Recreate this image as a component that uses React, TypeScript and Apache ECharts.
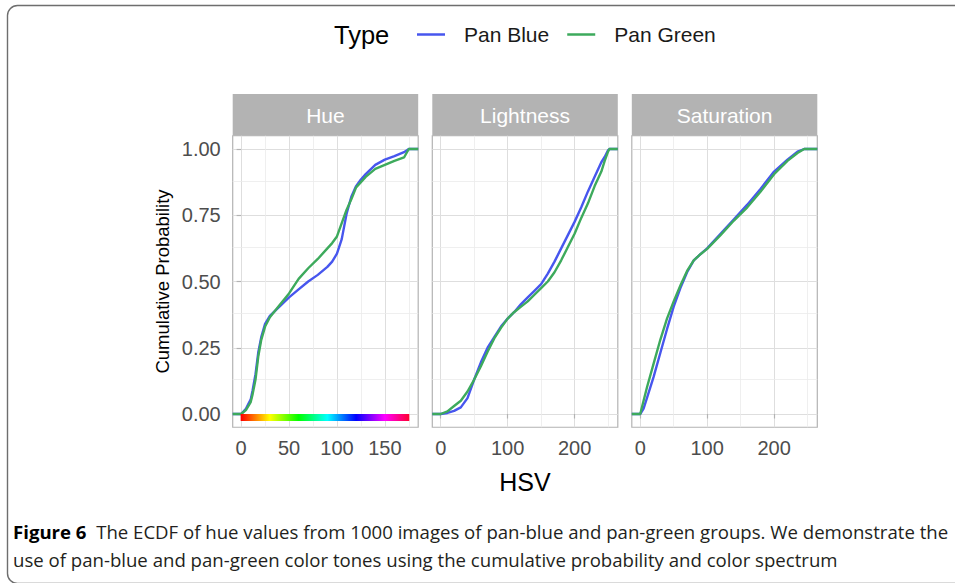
import React, { useEffect, useRef } from 'react';
import * as echarts from 'echarts';

// ---------- data ----------
const panelNames = ['Hue', 'Lightness', 'Saturation'];
const typeNames = ['Pan Blue', 'Pan Green'];
const typeColors = ['#4756EE', '#3DAA5C'];

const yTicks = [0, 0.25, 0.5, 0.75, 1];
const yMinor = [0.125, 0.375, 0.625, 0.875];
const yRange = [-0.05, 1.05];

const hueX = [0, 5, 10, 12, 15, 18, 21, 25, 30, 40, 50, 60, 70, 80, 90, 95, 100, 105, 110, 115, 120, 125, 130, 140, 150, 160, 170, 175];
const hueBlue = [0, 0.02, 0.055, 0.09, 0.15, 0.235, 0.29, 0.34, 0.37, 0.405, 0.44, 0.47, 0.5, 0.525, 0.555, 0.575, 0.605, 0.66, 0.755, 0.82, 0.86, 0.885, 0.905, 0.94, 0.96, 0.973, 0.988, 1];
const hueGreen = [0, 0.015, 0.045, 0.075, 0.13, 0.22, 0.28, 0.33, 0.365, 0.41, 0.455, 0.51, 0.55, 0.585, 0.625, 0.645, 0.67, 0.72, 0.77, 0.81, 0.855, 0.875, 0.895, 0.925, 0.94, 0.955, 0.968, 1];
const hueTicks = [0, 50, 100, 150];
const hueMinor = [25, 75, 125, 175];
const hueRange = [-8.8, 184.8];

const lightX = [0, 10, 20, 30, 40, 50, 60, 70, 80, 90, 100, 110, 120, 130, 140, 150, 160, 170, 180, 190, 200, 210, 220, 230, 240, 245, 250, 252];
const lightBlue = [0, 0.004, 0.012, 0.025, 0.06, 0.13, 0.195, 0.25, 0.29, 0.33, 0.36, 0.385, 0.415, 0.44, 0.465, 0.49, 0.53, 0.575, 0.625, 0.675, 0.725, 0.78, 0.84, 0.895, 0.95, 0.97, 0.995, 1];
const lightGreen = [0, 0.01, 0.03, 0.05, 0.085, 0.13, 0.18, 0.235, 0.285, 0.325, 0.36, 0.385, 0.405, 0.425, 0.45, 0.475, 0.5, 0.535, 0.58, 0.63, 0.68, 0.74, 0.795, 0.86, 0.915, 0.955, 0.99, 1];

const satX = [0, 5, 10, 20, 30, 40, 50, 60, 70, 80, 90, 100, 120, 140, 160, 180, 200, 220, 235, 245, 248];
const satBlue = [0, 0.02, 0.06, 0.14, 0.23, 0.32, 0.405, 0.475, 0.535, 0.58, 0.603, 0.625, 0.68, 0.735, 0.79, 0.85, 0.915, 0.96, 0.99, 1, 1];
const satGreen = [0, 0.05, 0.1, 0.19, 0.28, 0.36, 0.425, 0.485, 0.54, 0.58, 0.603, 0.623, 0.675, 0.73, 0.78, 0.84, 0.905, 0.955, 0.985, 1, 1];

const valueTicks = [0, 100, 200];
const valueMinor = [50, 150, 250];
const valueRange = [-12.6, 264.6];

const spectrumRange = [-0.5, 175.5];
const spectrumY = [-0.026, 0.0];
const spectrumHues = [0, 30, 60, 90, 120, 150, 175.5];
const spectrumColors = ['#FF0000', '#FFFF00', '#00FF00', '#00FFFF', '#0000FF', '#FF00FF', '#FF0030'];

const captionBold = 'Figure 6';
const captionLine1 = 'The ECDF of hue values from 1000 images of pan-blue and pan-green groups. We demonstrate the';
const captionLine2 = 'use of pan-blue and pan-green color tones using the cumulative probability and color spectrum';

// ---------- layout ----------
const panelLeft = [232.7, 432.3, 631.8];
const panelTop = 135.75;
const panelW = 185.5;
const panelH = 291.5;
const stripTop = 94;

const panels = [
  { x: hueX, blue: hueBlue, green: hueGreen, ticks: hueTicks, minor: hueMinor, range: hueRange },
  { x: lightX, blue: lightBlue, green: lightGreen, ticks: valueTicks, minor: valueMinor, range: valueRange },
  { x: satX, blue: satBlue, green: satGreen, ticks: valueTicks, minor: valueMinor, range: valueRange },
];

const FONT = '"Liberation Sans", Arial, sans-serif';
const CAPTION_FONT = '"Open Sans", sans-serif';

export default function App() {
  const ref = useRef<HTMLDivElement>(null);
  useEffect(() => {
    if (!ref.current) return;
    const chart = echarts.init(ref.current, undefined, { renderer: 'svg' });

    const grids: any[] = [];
    const xAxes: any[] = [];
    const yAxes: any[] = [];
    const series: any[] = [];
    const graphics: any[] = [];

    panels.forEach((p, i) => {
      grids.push({
        left: panelLeft[i], top: panelTop, width: panelW, height: panelH,
        show: true, backgroundColor: '#FFFFFF', borderColor: '#B3B3B3', borderWidth: 1.2,
        containLabel: false,
      });
      xAxes.push({
        type: 'value', gridIndex: i, min: p.range[0], max: p.range[1],
        splitNumber: i === 0 ? 4 : 3,
        axisLine: { show: false },
        axisTick: { show: true, length: 4.5, customValues: p.ticks, lineStyle: { color: '#B3B3B3', width: 1.2 } },
        axisLabel: { show: true, customValues: p.ticks, margin: 11, fontSize: 20, color: '#4D4D4D', fontFamily: FONT },
        splitLine: { show: true, lineStyle: { color: '#DEDEDE', width: 1 } },
      });
      yAxes.push({
        type: 'value', gridIndex: i, min: yRange[0], max: yRange[1],
        axisLine: { show: false },
        axisTick: { show: i === 0, length: 4.5, customValues: yTicks, lineStyle: { color: '#B3B3B3', width: 1.2 } },
        axisLabel: {
          show: i === 0, customValues: yTicks, margin: 12, fontSize: 20, color: '#4D4D4D', fontFamily: FONT,
          formatter: (v: number) => v.toFixed(2),
        },
        splitLine: { show: true, lineStyle: { color: '#DEDEDE', width: 1 } },
      });
      const curves = [p.blue, p.green];
      curves.forEach((ys, k) => {
        const data = [[p.range[0], 0], ...p.x.map((xv, j) => [xv, ys[j]]), [p.range[1], 1]];
        const s: any = {
          type: 'line', name: typeNames[k], xAxisIndex: i, yAxisIndex: i,
          data, showSymbol: false, symbol: 'none', smooth: false, z: 10,
          lineStyle: { color: typeColors[k], width: 2.4 }, itemStyle: { color: typeColors[k] },
          emphasis: { disabled: true }, silent: true,
        };
        if (k === 0) {
          s.markLine = {
            silent: true, symbol: 'none', z: 1, animation: false,
            label: { show: false },
            lineStyle: { color: '#EBEBEB', width: 0.8, type: 'solid' },
            emphasis: { disabled: true },
            data: [...yMinor.map((v) => ({ yAxis: v })), ...p.minor.map((v) => ({ xAxis: v }))],
          };
        }
        series.push(s);
      });
      // strip
      graphics.push({
        type: 'rect', shape: { x: panelLeft[i], y: stripTop, width: panelW, height: panelTop - stripTop },
        style: { fill: '#B3B3B3' }, silent: true,
      });
      graphics.push({
        type: 'text', x: panelLeft[i] + panelW / 2, y: (stripTop + panelTop) / 2 + 1,
        style: { text: panelNames[i], fill: '#FFFFFF', fontSize: 21, fontFamily: FONT, align: 'center', verticalAlign: 'middle' },
        silent: true,
      });
    });

    // colour spectrum on the hue panel
    const span = spectrumRange[1] - spectrumRange[0];
    const stops = spectrumHues.map((h, j) => ({ offset: (h - spectrumRange[0]) / span, color: spectrumColors[j] }));
    series.push({
      type: 'custom', xAxisIndex: 0, yAxisIndex: 0, z: 12, silent: true,
      data: [[spectrumRange[0], spectrumRange[1], spectrumY[0], spectrumY[1]]],
      encode: { x: [0, 1], y: [2, 3] },
      renderItem: (params: any, api: any) => {
        const a = api.coord([api.value(0), api.value(3)]);
        const b = api.coord([api.value(1), api.value(2)]);
        return {
          type: 'rect',
          shape: { x: a[0], y: a[1], width: b[0] - a[0], height: b[1] - a[1] },
          style: { fill: new echarts.graphic.LinearGradient(0, 0, 1, 0, stops) },
        };
      },
    });

    // frame
    graphics.push({
      type: 'rect', shape: { x: 7.5, y: 5.5, width: 1200, height: 578, r: 10 },
      style: { fill: 'none', stroke: '#6E6E6E', lineWidth: 1.4 }, silent: true, z: -1,
    });
    graphics.push({
      type: 'text', x: 334, y: 35,
      style: { text: 'Type', fill: '#000000', fontSize: 25.5, fontFamily: FONT, align: 'left', verticalAlign: 'middle' },
    });
    graphics.push({
      type: 'text', x: 162, y: (panelTop + panelTop + panelH) / 2, rotation: Math.PI / 2,
      style: { text: 'Cumulative Probability', fill: '#000000', fontSize: 18.5, fontFamily: FONT, align: 'center', verticalAlign: 'middle' },
    });
    graphics.push({
      type: 'text', x: (panelLeft[0] + panelLeft[2] + panelW) / 2, y: 482,
      style: { text: 'HSV', fill: '#000000', fontSize: 25, fontFamily: FONT, align: 'center', verticalAlign: 'middle' },
    });
    graphics.push({
      type: 'text', x: 13, y: 531,
      style: {
        text: '{b|' + captionBold + '}  ' + captionLine1,
        fill: '#231F20', fontSize: 18.6, fontFamily: CAPTION_FONT, align: 'left', verticalAlign: 'middle',
        rich: { b: { fontWeight: 'bold', fill: '#000000', fontSize: 18.6, fontFamily: CAPTION_FONT } },
      },
    });
    graphics.push({
      type: 'text', x: 13, y: 559,
      style: { text: captionLine2, fill: '#231F20', fontSize: 18.6, fontFamily: CAPTION_FONT, align: 'left', verticalAlign: 'middle' },
    });

    chart.setOption({
      animation: false,
      backgroundColor: '#FFFFFF',
      textStyle: { fontFamily: FONT },
      grid: grids,
      xAxis: xAxes,
      yAxis: yAxes,
      legend: {
        data: typeNames, left: 412, top: 19, itemWidth: 28, itemHeight: 2.5, itemGap: 18, icon: 'rect',
        selectedMode: false,
        textStyle: { fontSize: 21, color: '#1A1A1A', fontFamily: FONT, padding: [0, 0, 0, 14] },
      },
      series,
      graphic: graphics,
    });
    return () => chart.dispose();
  }, []);
  return <div ref={ref} style={{ position: 'fixed', left: 0, top: 0, width: 955, height: 583 }} />;
}
